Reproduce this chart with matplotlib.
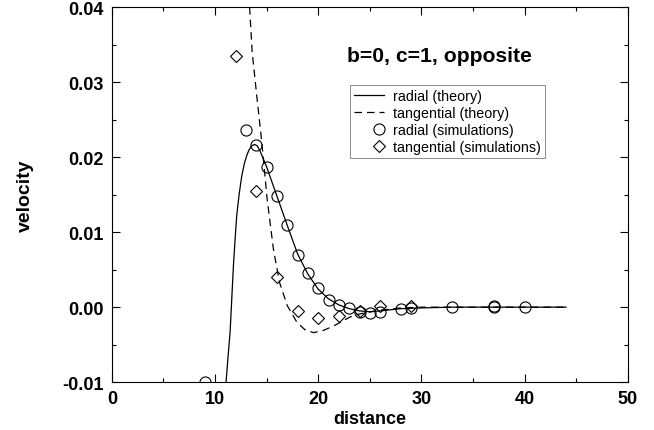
import numpy as np
import matplotlib.pyplot as plt
from matplotlib.ticker import MultipleLocator
from matplotlib.legend_handler import HandlerLine2D

plt.rcParams['font.family'] = ['Liberation Sans', 'DejaVu Sans']

# theory curves
radial_th_x = [11.07, 11.25, 11.46, 11.6, 11.78, 11.95, 12.1, 12.35, 12.59, 12.85, 13.07, 13.3,
               13.55, 13.82, 14.1, 14.4, 15.0, 16.0, 17.0, 18.0, 19.0, 20.0, 21.0, 22.0, 23.0,
               24.0, 25.0, 26.0, 28.0, 30.0, 33.0, 44.0]
radial_th_y = [-0.0100, -0.0068, -0.0033, 0.0005, 0.0055, 0.0092, 0.0122, 0.0152, 0.0175, 0.0192,
               0.0202, 0.0210, 0.0215, 0.0217, 0.0215, 0.0207, 0.0187, 0.0148, 0.0109, 0.0071,
               0.0044, 0.0024, 0.0011, 0.0003, -0.0002, -0.0005, -0.0006, -0.0005, -0.0002,
               -0.0001, 0.0, 0.0]

tang_th_x = [13.35, 13.6, 14.08, 14.53, 15.05, 15.66, 16.25, 17.0, 17.93, 18.7, 19.55, 20.5,
             21.5, 23.1, 24.0, 26.0, 28.0, 30.0, 44.0]
tang_th_y = [0.0400, 0.0340, 0.0277, 0.0220, 0.0144, 0.0077, 0.0033, 0.0002, -0.0020, -0.0030,
             -0.0034, -0.0031, -0.0025, -0.0013, -0.0009, -0.0004, -0.0001, 0.0, 0.0]

# simulation points
radial_sim_x = [9, 13, 14, 15, 16, 17, 18, 19, 20, 21, 22, 23, 24, 25, 26, 28, 29, 33, 37, 37, 40]
radial_sim_y = [-0.0100, 0.0236, 0.0216, 0.0187, 0.0148, 0.0109, 0.0069, 0.0045, 0.0025, 0.0010,
                0.0003, -0.0001, -0.0006, -0.0008, -0.0006, -0.0003, -0.0001, 0.0, 0.0, 0.0001, 0.0]

tang_sim_x = [12, 14, 16, 18, 20, 22, 24, 26, 29]
tang_sim_y = [0.0335, 0.0155, 0.0040, -0.0005, -0.0015, -0.0012, -0.0005, 0.0001, 0.0001]


class RightMarker(HandlerLine2D):
    # one marker at the right end of the handle, next to the text
    def get_xdata(self, legend, xdescent, ydescent, width, height, fontsize):
        xr = np.array([-xdescent + width - 0.35 * fontsize])
        return xr, xr


fig = plt.figure(figsize=(6.54, 4.31), dpi=100)
ax = fig.add_axes([0.171, 0.111, 0.789, 0.870])

ax.plot(radial_th_x, radial_th_y, color='black', lw=0.9, label='radial (theory)')
ax.plot(tang_th_x, tang_th_y, color='black', lw=0.9, ls=(0, (6, 4)), label='tangential (theory)')
m1, = ax.plot(radial_sim_x, radial_sim_y, ls='none', marker='o', ms=8, mfc='none', mec='black',
              mew=0.8, label='radial (simulations)')
m2, = ax.plot(tang_sim_x, tang_sim_y, ls='none', marker='D', ms=6, mfc='none', mec='black',
              mew=0.8, label='tangential (simulations)')

ax.set_xlim(0, 50)
ax.set_ylim(-0.01, 0.04)
ax.xaxis.set_major_locator(MultipleLocator(10))
ax.xaxis.set_minor_locator(MultipleLocator(5))
ax.yaxis.set_minor_locator(MultipleLocator(0.005))
ax.set_yticks([-0.01, 0.0, 0.01, 0.02, 0.03, 0.04])
ax.set_yticklabels(['-0.01', '0.00', '0.01', '0.02', '0.03', '0.04'])
ax.tick_params(which='both', direction='in', top=True, right=True, width=0.8)
ax.tick_params(which='major', length=6, labelsize=13, pad=6)
ax.tick_params(which='minor', length=3)
for lab in ax.get_xticklabels() + ax.get_yticklabels():
    lab.set_fontweight('bold')
for s in ax.spines.values():
    s.set_linewidth(0.8)

ax.set_xlabel('distance', fontsize=13, fontweight='bold', labelpad=2)
ax.set_ylabel('velocity', fontsize=14, fontweight='bold', labelpad=20)

ax.text(22.8, 0.0335, 'b=0, c=1, opposite', fontsize=15.2, fontweight='bold', va='center')

leg = ax.legend(loc='upper left', bbox_to_anchor=(0.461, 0.792), fontsize=10.3, frameon=True,
                fancybox=False, edgecolor='#555555', handlelength=2.1, handletextpad=0.6,
                borderpad=0.3, labelspacing=0.2, borderaxespad=0,
                handler_map={m1: RightMarker(numpoints=2), m2: RightMarker(numpoints=2)})
leg.get_frame().set_linewidth(0.6)

fig.savefig('out.png', dpi=100)
